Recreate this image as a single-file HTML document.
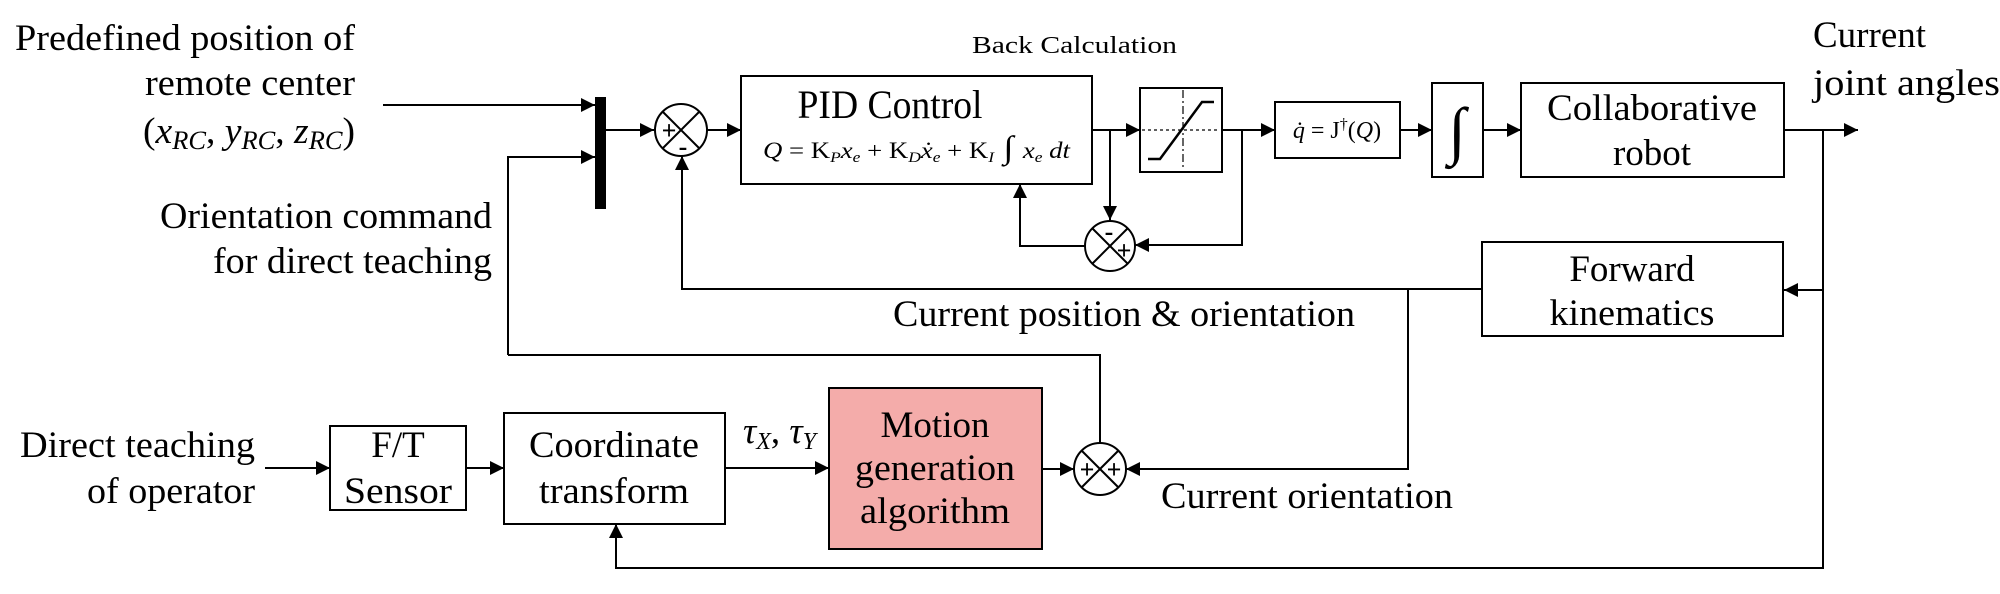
<!DOCTYPE html>
<html><head><meta charset="utf-8"><style>
html,body{margin:0;padding:0;background:#fff;}
svg{display:block;}
svg, svg text, svg tspan{font-family:"Liberation Serif","Times New Roman",Times,serif !important;}
</style></head><body>
<svg width="2000" height="594" viewBox="0 0 2000 594" xmlns="http://www.w3.org/2000/svg" font-family="Liberation Serif, Times New Roman, serif">
<defs>
<marker id="a" viewBox="0 0 10 10" refX="10" refY="5" markerWidth="14" markerHeight="14" markerUnits="userSpaceOnUse" orient="auto"><path d="M0,0 L10,5 L0,10 z" fill="#000"/></marker>
</defs>
<g stroke="#000" stroke-width="2" fill="none">
<line x1="383" y1="105" x2="595" y2="105" marker-end="url(#a)"/>
<polyline points="508,355 508,157 595,157" marker-end="url(#a)"/>
<rect x="596" y="98" width="9" height="110" fill="#000"/>
<line x1="605" y1="130" x2="654" y2="130" marker-end="url(#a)"/>
<circle cx="681" cy="130" r="26"/>
<line x1="663" y1="112" x2="699" y2="148"/><line x1="699" y1="112" x2="663" y2="148"/>
<line x1="707" y1="130" x2="741" y2="130" marker-end="url(#a)"/>
<rect x="741" y="76" width="351" height="108"/>
<line x1="1092" y1="130" x2="1140" y2="130" marker-end="url(#a)"/>
<rect x="1140" y="88" width="82" height="84"/>
<line x1="1142" y1="130" x2="1220" y2="130" stroke-width="1.2" stroke-dasharray="3,3"/>
<line x1="1183" y1="90" x2="1183" y2="170" stroke-width="1.2" stroke-dasharray="8,3,2,3"/>
<polyline points="1148,159 1160,159 1202,102 1214,102" stroke-width="2.5"/>
<line x1="1222" y1="130" x2="1275" y2="130" marker-end="url(#a)"/>
<line x1="1110" y1="130" x2="1110" y2="220" marker-end="url(#a)"/>
<polyline points="1242,130 1242,245 1135,245" marker-end="url(#a)"/>
<circle cx="1110" cy="246" r="25"/>
<line x1="1092" y1="228" x2="1128" y2="264"/><line x1="1128" y1="228" x2="1092" y2="264"/>
<polyline points="1085,246 1020,246 1020,184" marker-end="url(#a)"/>
<rect x="1275" y="102" width="125" height="56"/>
<line x1="1400" y1="130" x2="1432" y2="130" marker-end="url(#a)"/>
<rect x="1432" y="83" width="51" height="94"/>
<line x1="1483" y1="130" x2="1521" y2="130" marker-end="url(#a)"/>
<rect x="1521" y="83" width="263" height="94"/>
<line x1="1784" y1="130" x2="1858" y2="130" marker-end="url(#a)"/>
<polyline points="1823,130 1823,568 616,568 616,524" marker-end="url(#a)"/>
<line x1="1823" y1="290" x2="1784" y2="290" marker-end="url(#a)"/>
<rect x="1482" y="242" width="301" height="94"/>
<polyline points="1482,289 682,289 682,156" marker-end="url(#a)"/>
<polyline points="1408,289 1408,469 1126,469" marker-end="url(#a)"/>
<circle cx="1100" cy="469" r="26"/>
<line x1="1082" y1="451" x2="1118" y2="487"/><line x1="1118" y1="451" x2="1082" y2="487"/>
<polyline points="1100,443 1100,355 508,355"/>
<line x1="265" y1="468" x2="330" y2="468" marker-end="url(#a)"/>
<rect x="330" y="426" width="136" height="84"/>
<line x1="466" y1="468" x2="504" y2="468" marker-end="url(#a)"/>
<rect x="504" y="413" width="221" height="111"/>
<line x1="725" y1="468" x2="829" y2="468" marker-end="url(#a)"/>
<rect x="829" y="388" width="213" height="161" fill="#f4acaa"/>
<line x1="1042" y1="469" x2="1074" y2="469" marker-end="url(#a)"/>
</g>
<g font-size="26" font-weight="bold" text-anchor="middle">
<text x="669" y="139">+</text><text x="683" y="155">-</text>
<text x="1109" y="240">-</text><text x="1124" y="259">+</text>
<text x="1087" y="478">+</text><text x="1114" y="478">+</text>
</g>
<g font-size="37" text-anchor="end">
<text x="355" y="50" textLength="340" lengthAdjust="spacingAndGlyphs">Predefined position of</text>
<text x="355" y="95" textLength="210" lengthAdjust="spacingAndGlyphs">remote center</text>
<text x="355" y="143" textLength="212" lengthAdjust="spacingAndGlyphs">(<tspan font-style="italic">x</tspan><tspan font-style="italic" font-size="26" dy="6">RC</tspan><tspan dy="-6">, </tspan><tspan font-style="italic">y</tspan><tspan font-style="italic" font-size="26" dy="6">RC</tspan><tspan dy="-6">, </tspan><tspan font-style="italic">z</tspan><tspan font-style="italic" font-size="26" dy="6">RC</tspan><tspan dy="-6">)</tspan></text>
<text x="492" y="228" textLength="332" lengthAdjust="spacingAndGlyphs">Orientation command</text>
<text x="492" y="273" textLength="279" lengthAdjust="spacingAndGlyphs">for direct teaching</text>
<text x="255" y="457" textLength="235" lengthAdjust="spacingAndGlyphs">Direct teaching</text>
<text x="255" y="503" textLength="168" lengthAdjust="spacingAndGlyphs">of operator</text>
</g>
<g font-size="37" text-anchor="middle">
<text x="890" y="118" font-size="40" textLength="185" lengthAdjust="spacingAndGlyphs">PID Control</text>
<text x="1652" y="120" textLength="210" lengthAdjust="spacingAndGlyphs">Collaborative</text>
<text x="1652" y="165">robot</text>
<text x="1632" y="281">Forward</text>
<text x="1632" y="325" textLength="165" lengthAdjust="spacingAndGlyphs">kinematics</text>
<text x="398" y="457">F/T</text>
<text x="398" y="503" textLength="108" lengthAdjust="spacingAndGlyphs">Sensor</text>
<text x="614" y="457" textLength="170" lengthAdjust="spacingAndGlyphs">Coordinate</text>
<text x="614" y="503" textLength="150" lengthAdjust="spacingAndGlyphs">transform</text>
<text x="935" y="437">Motion</text>
<text x="935" y="480" textLength="160" lengthAdjust="spacingAndGlyphs">generation</text>
<text x="935" y="523" textLength="150" lengthAdjust="spacingAndGlyphs">algorithm</text>
</g>
<g font-size="37">
<text x="1813" y="47">Current</text>
<text x="1813" y="95" textLength="187" lengthAdjust="spacingAndGlyphs">joint angles</text>
<text x="893" y="326" textLength="462" lengthAdjust="spacingAndGlyphs">Current position &amp; orientation</text>
<text x="1161" y="508" textLength="292" lengthAdjust="spacingAndGlyphs">Current orientation</text>
<text x="743" y="443" font-style="italic">τ<tspan font-size="24" dy="6">X</tspan><tspan dy="-6" font-style="normal">,  </tspan>τ<tspan font-size="24" dy="6">Y</tspan></text>
</g>
<text x="972" y="53" font-size="24" textLength="205" lengthAdjust="spacingAndGlyphs">Back Calculation</text>
<text x="763" y="158" font-size="23" textLength="307" lengthAdjust="spacingAndGlyphs"><tspan font-style="italic">Q</tspan> = K<tspan font-style="italic" font-size="15" dy="4">P</tspan><tspan font-style="italic" dy="-4">x</tspan><tspan font-style="italic" font-size="15" dy="4">e</tspan><tspan dy="-4"> + K</tspan><tspan font-style="italic" font-size="15" dy="4">D</tspan><tspan font-style="italic" dy="-4">ẋ</tspan><tspan font-style="italic" font-size="15" dy="4">e</tspan><tspan dy="-4"> + K</tspan><tspan font-style="italic" font-size="15" dy="4">I</tspan><tspan dy="-4" font-size="32"> ∫ </tspan><tspan font-style="italic">x</tspan><tspan font-style="italic" font-size="15" dy="4">e</tspan><tspan font-style="italic" dy="-4"> dt</tspan></text>
<text x="1337" y="138" font-size="24" text-anchor="middle"><tspan font-style="italic">q̇</tspan> = J<tspan font-size="16" dy="-9">†</tspan><tspan dy="9">(</tspan><tspan font-style="italic">Q</tspan>)</text>
<text x="1457" y="152" font-size="64" text-anchor="middle">∫</text>
</svg>
</body></html>
